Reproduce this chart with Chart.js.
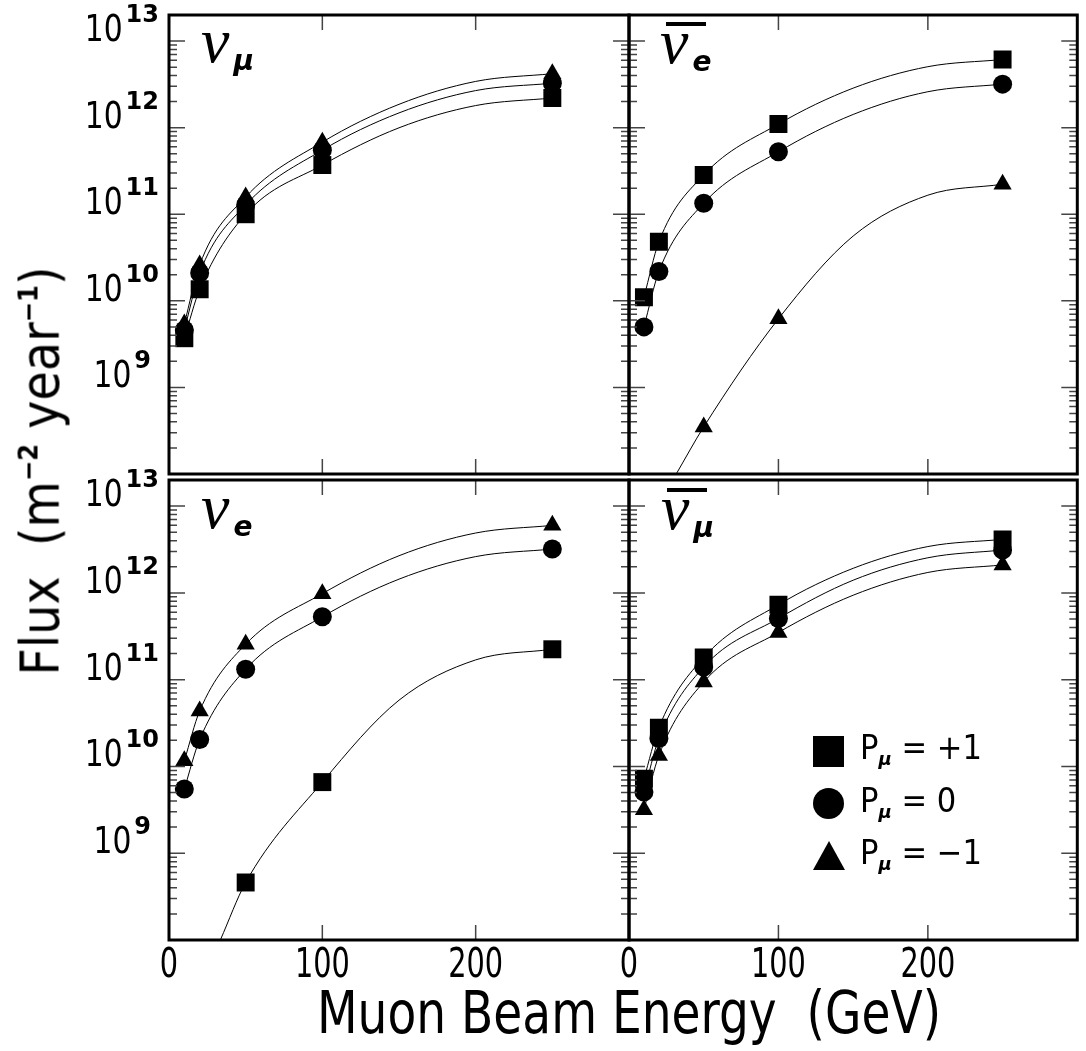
<!DOCTYPE html>
<html>
<head>
<meta charset="utf-8">
<script src="https://cdn.jsdelivr.net/npm/chart.js@4.4.1/dist/chart.umd.min.js"></script>
<style>
  html, body { margin: 0; padding: 0; background: #fff; overflow: hidden; }
  #fig { position: relative; width: 1086px; height: 1051px; overflow: hidden; }
  #fig canvas { position: absolute; left: 0; top: 0; }
  .t { position: absolute; white-space: nowrap; color: #000; line-height: 1; }
  .narrow { font-family: "DejaVu Sans Condensed", "DejaVu Sans", sans-serif; }
  .nu { font-family: "Liberation Serif", "DejaVu Serif", serif; font-style: italic; font-size: 64px; }
  .nu sub { font-family: "DejaVu Sans", sans-serif; font-weight: bold; font-style: oblique; font-size: 28px; vertical-align: -8px; margin-left: 4px; }
  .bar { position: absolute; height: 4px; width: 40px; background: #000; }
  #ytitle { left: 40px; top: 471px; font-size: 53px; transform: translate(-50%, -50%) rotate(-90deg); }
  #ytitle sup { font-size: 27px; font-weight: bold; vertical-align: 21px; }
  #xtitle { left: 629px; top: 983px; font-size: 59px; transform: translateX(-50%) scaleX(0.887); }
  .leg { position: absolute; left: 813px; width: 300px; height: 40px; }
  .leg .m { position: absolute; left: 0; background: #000; }
  .leg .txt { position: absolute; left: 47px; top: 0; font-size: 34px; }
  .leg .txt sub { font-family: "DejaVu Sans", sans-serif; font-weight: bold; font-style: oblique; font-size: 18px; vertical-align: -6px; }
</style>
</head>
<body>
<div id="fig">
  <canvas id="pTL" width="1090" height="1051"></canvas>
  <canvas id="pTR" width="1090" height="1051"></canvas>
  <canvas id="pBL" width="1090" height="1051"></canvas>
  <canvas id="pBR" width="1090" height="1051"></canvas>

  <div class="t narrow" id="ytitle">Flux&nbsp;&nbsp;(m<sup>−2</sup> year<sup>−1</sup>)</div>
  <div class="t narrow" id="xtitle">Muon Beam Energy&nbsp;&nbsp;(GeV)</div>

  <div class="t nu" style="left:201px; top:9px;">ν<sub>μ</sub></div>
  <div class="bar" style="left:666px; top:22px;"></div>
  <div class="t nu" style="left:660px; top:10px;">ν<sub>e</sub></div>
  <div class="t nu" style="left:201px; top:475px;">ν<sub>e</sub></div>
  <div class="bar" style="left:667px; top:488px;"></div>
  <div class="t nu" style="left:661px; top:476px;">ν<sub>μ</sub></div>

  <div class="leg" style="top:730px;"><div class="m" style="top:6px; width:31px; height:31px;"></div><div class="t txt narrow">P<sub>μ</sub> = +1</div></div>
  <div class="leg" style="top:783px;"><div class="m" style="top:5px; width:31px; height:31px; border-radius:50%;"></div><div class="t txt narrow">P<sub>μ</sub> = 0</div></div>
  <div class="leg" style="top:835px;"><div class="m" style="top:6px; width:0; height:0; background:none; border-left:16px solid transparent; border-right:16px solid transparent; border-bottom:29px solid #000;"></div><div class="t txt narrow">P<sub>μ</sub> = −1</div></div>
</div>
<script>
// muon beam energies (GeV) of the plotted points
const energy = [10, 20, 50, 100, 250];
const curveE = [10, 20, 50, 100, 150, 200, 250];

// nu_mu panel
const numuPlus  = [1.85e9, 6.8e9, 5.0e10, 1.85e11, 1.1e12];
const numuZero  = [2.3e9, 1.05e10, 6.4e10, 2.75e11, 1.63e12];
const numuMinus = [2.7e9, 1.3e10, 7.9e10, 3.4e11, 2.1e12];
const numuPlusCurve  = [1.85e9, 6.8e9, 5.0e10, 1.85e11, 4.98e11, 9.0e11, 1.1e12];
const numuZeroCurve  = [2.3e9, 1.05e10, 6.4e10, 2.75e11, 7.4e11, 1.34e12, 1.63e12];
const numuMinusCurve = [2.7e9, 1.3e10, 7.9e10, 3.4e11, 9.3e11, 1.71e12, 2.1e12];

// anti nu_e panel
const anuePlus  = [5.5e9, 2.4e10, 1.42e11, 5.5e11, 3.06e12];
const anueZero  = [2.5e9, 1.09e10, 6.7e10, 2.63e11, 1.59e12];
const anueMinus = [null, null, 1.75e8, 3.1e9, 1.11e11];
const anuePlusCurve   = [5.5e9, 2.4e10, 1.42e11, 5.5e11, 1.43e12, 2.53e12, 3.06e12];
const anueZeroCurve   = [2.5e9, 1.09e10, 6.7e10, 2.63e11, 7.1e11, 1.3e12, 1.59e12];
const anueMinusCurveE = [31.6, 50, 100, 150, 200, 250];   // starts at the bottom edge
const anueMinusCurve  = [5e7, 1.75e8, 3.1e9, 2.8e10, 8.3e10, 1.11e11];

// nu_e panel
const nuePlus  = [null, null, 2.3e8, 3.3e9, 1.12e11];
const nueZero  = [2.75e9, 1.02e10, 6.6e10, 2.65e11, 1.6e12];
const nueMinus = [5.8e9, 2.18e10, 1.28e11, 4.9e11, 3.0e12];
const nueMinusCurve = [5.8e9, 2.18e10, 1.28e11, 4.9e11, 1.34e12, 2.45e12, 3.0e12];
const nueZeroCurve  = [2.75e9, 1.02e10, 6.6e10, 2.65e11, 7.2e11, 1.31e12, 1.6e12];
const nuePlusCurveE = [33.5, 50, 100, 150, 200, 250];
const nuePlusCurve  = [5e7, 2.3e8, 3.3e9, 2.9e10, 8.45e10, 1.12e11];

// anti nu_mu panel
const anumuPlus  = [3.6e9, 1.4e10, 9.0e10, 3.65e11, 2.07e12];
const anumuZero  = [2.54e9, 1.05e10, 7.0e10, 2.54e11, 1.56e12];
const anumuMinus = [1.59e9, 6.7e9, 4.7e10, 1.75e11, 1.05e12];
const anumuPlusCurve  = [3.6e9, 1.4e10, 9.0e10, 3.65e11, 9.6e11, 1.71e12, 2.07e12];
const anumuZeroCurve  = [2.54e9, 1.05e10, 7.0e10, 2.54e11, 7.0e11, 1.27e12, 1.56e12];
const anumuMinusCurve = [1.59e9, 6.7e9, 4.7e10, 1.75e11, 4.7e11, 8.6e11, 1.05e12];

const yTickExp = [9, 10, 11, 12, 13];
const xTickLabels = [0, 100, 200];
const xTickMarks = [100, 200];

const FONT = '"DejaVu Sans Condensed", "DejaVu Sans", sans-serif';

function squeezeText(ctx, s, x, y, sx) {
  ctx.save();
  ctx.translate(x, y);
  ctx.scale(sx, 1);
  ctx.fillText(s, 0, 0);
  ctx.restore();
}

const frame = {
  id: 'frame',
  afterDraw(chart, args, o) {
    const ctx = chart.ctx, a = chart.chartArea;
    const x = chart.scales.x, y = chart.scales.y;
    ctx.save();
    // inward log ticks on both sides, long ones at 5 x 10^n
    ctx.strokeStyle = '#444';
    ctx.lineWidth = 1.5;
    ctx.beginPath();
    for (let n = 7; n <= 12; n++) {
      for (let k = 2; k <= 10; k++) {
        const v = k * 5 * Math.pow(10, n - 1);
        if (v <= y.min * 1.01 || v >= y.max * 0.99) continue;
        const py = y.getPixelForValue(v);
        const len = k === 10 ? 16 : 8;
        ctx.moveTo(a.left, py); ctx.lineTo(a.left + len, py);
        ctx.moveTo(a.right, py); ctx.lineTo(a.right - len, py);
      }
    }
    xTickMarks.forEach(v => {
      const px = x.getPixelForValue(v);
      ctx.moveTo(px, a.top); ctx.lineTo(px, a.top + 15);
      ctx.moveTo(px, a.bottom); ctx.lineTo(px, a.bottom - 15);
    });
    ctx.stroke();

    ctx.strokeStyle = '#000';
    ctx.lineWidth = 3;
    ctx.strokeRect(a.left, a.top, a.right - a.left, a.bottom - a.top);

    ctx.fillStyle = '#000';
    ctx.textBaseline = 'alphabetic';
    if (o.yLabels) {
      yTickExp.forEach(e => {
        const py = y.getPixelForValue(Math.pow(10, e));
        const right = e < 10 ? 151 : 159;
        ctx.textAlign = 'right';
        ctx.font = 'bold 24px "DejaVu Sans", sans-serif';
        const ew = ctx.measureText(String(e)).width;
        ctx.fillText(String(e), right, py + 7);
        ctx.font = '38px ' + FONT;
        squeezeText(ctx, '10', right - ew - 3, py + 26, 0.87);
      });
    }
    if (o.xLabels) {
      ctx.textAlign = 'center';
      ctx.font = '41px ' + FONT;
      xTickLabels.forEach(v => {
        squeezeText(ctx, String(v), x.getPixelForValue(v), a.bottom + 37, 0.78);
      });
    }
    ctx.restore();
  }
};

function pts(xs, ys) {
  return xs.map((e, i) => ({ x: e, y: ys[i] })).filter(p => p.y != null);
}

function curve(xs, ys) {
  return {
    data: pts(xs, ys), showLine: true, borderColor: '#000', borderWidth: 1,
    pointRadius: 0, cubicInterpolationMode: 'monotone', order: 2
  };
}

function marks(vals, style, r) {
  return {
    data: pts(energy, vals), showLine: false, pointStyle: style, pointRadius: r,
    backgroundColor: '#000', borderColor: '#000', borderWidth: 0, order: 1
  };
}

function panel(id, area, series, opt) {
  const datasets = [];
  series.forEach(s => datasets.push(curve(s.cx, s.cy)));
  series.forEach(s => datasets.push(marks(s.vals, s.style, s.r)));
  return new Chart(document.getElementById(id), {
    type: 'line',
    data: { datasets },
    options: {
      responsive: false,
      animation: false,
      events: [],
      layout: { padding: { left: area[0], top: area[2], right: 1090 - area[1], bottom: 1051 - area[3] } },
      scales: {
        x: { type: 'linear', min: 0, max: 300, display: false },
        y: { type: 'logarithmic', min: 5e7, max: 1e13, display: false }
      },
      plugins: { legend: { display: false }, tooltip: { enabled: false }, frame: opt }
    },
    plugins: [frame]
  });
}

panel('pTL', [169, 629, 15, 474], [
  { vals: numuPlus, style: 'rect', r: 12.7, cx: curveE, cy: numuPlusCurve },
  { vals: numuZero, style: 'circle', r: 9.5, cx: curveE, cy: numuZeroCurve },
  { vals: numuMinus, style: 'triangle', r: 10.5, cx: curveE, cy: numuMinusCurve }
], { yLabels: true, xLabels: false });

panel('pTR', [629, 1089, 15, 474], [
  { vals: anueMinus, style: 'triangle', r: 10.5, cx: anueMinusCurveE, cy: anueMinusCurve },
  { vals: anueZero, style: 'circle', r: 9.5, cx: curveE, cy: anueZeroCurve },
  { vals: anuePlus, style: 'rect', r: 12.7, cx: curveE, cy: anuePlusCurve }
], { yLabels: false, xLabels: false });

panel('pBL', [169, 629, 480, 940], [
  { vals: nuePlus, style: 'rect', r: 12.7, cx: nuePlusCurveE, cy: nuePlusCurve },
  { vals: nueZero, style: 'circle', r: 9.5, cx: curveE, cy: nueZeroCurve },
  { vals: nueMinus, style: 'triangle', r: 10.5, cx: curveE, cy: nueMinusCurve }
], { yLabels: true, xLabels: true });

panel('pBR', [629, 1089, 480, 940], [
  { vals: anumuMinus, style: 'triangle', r: 10.5, cx: curveE, cy: anumuMinusCurve },
  { vals: anumuZero, style: 'circle', r: 9.5, cx: curveE, cy: anumuZeroCurve },
  { vals: anumuPlus, style: 'rect', r: 12.7, cx: curveE, cy: anumuPlusCurve }
], { yLabels: false, xLabels: true });
</script>
</body>
</html>
